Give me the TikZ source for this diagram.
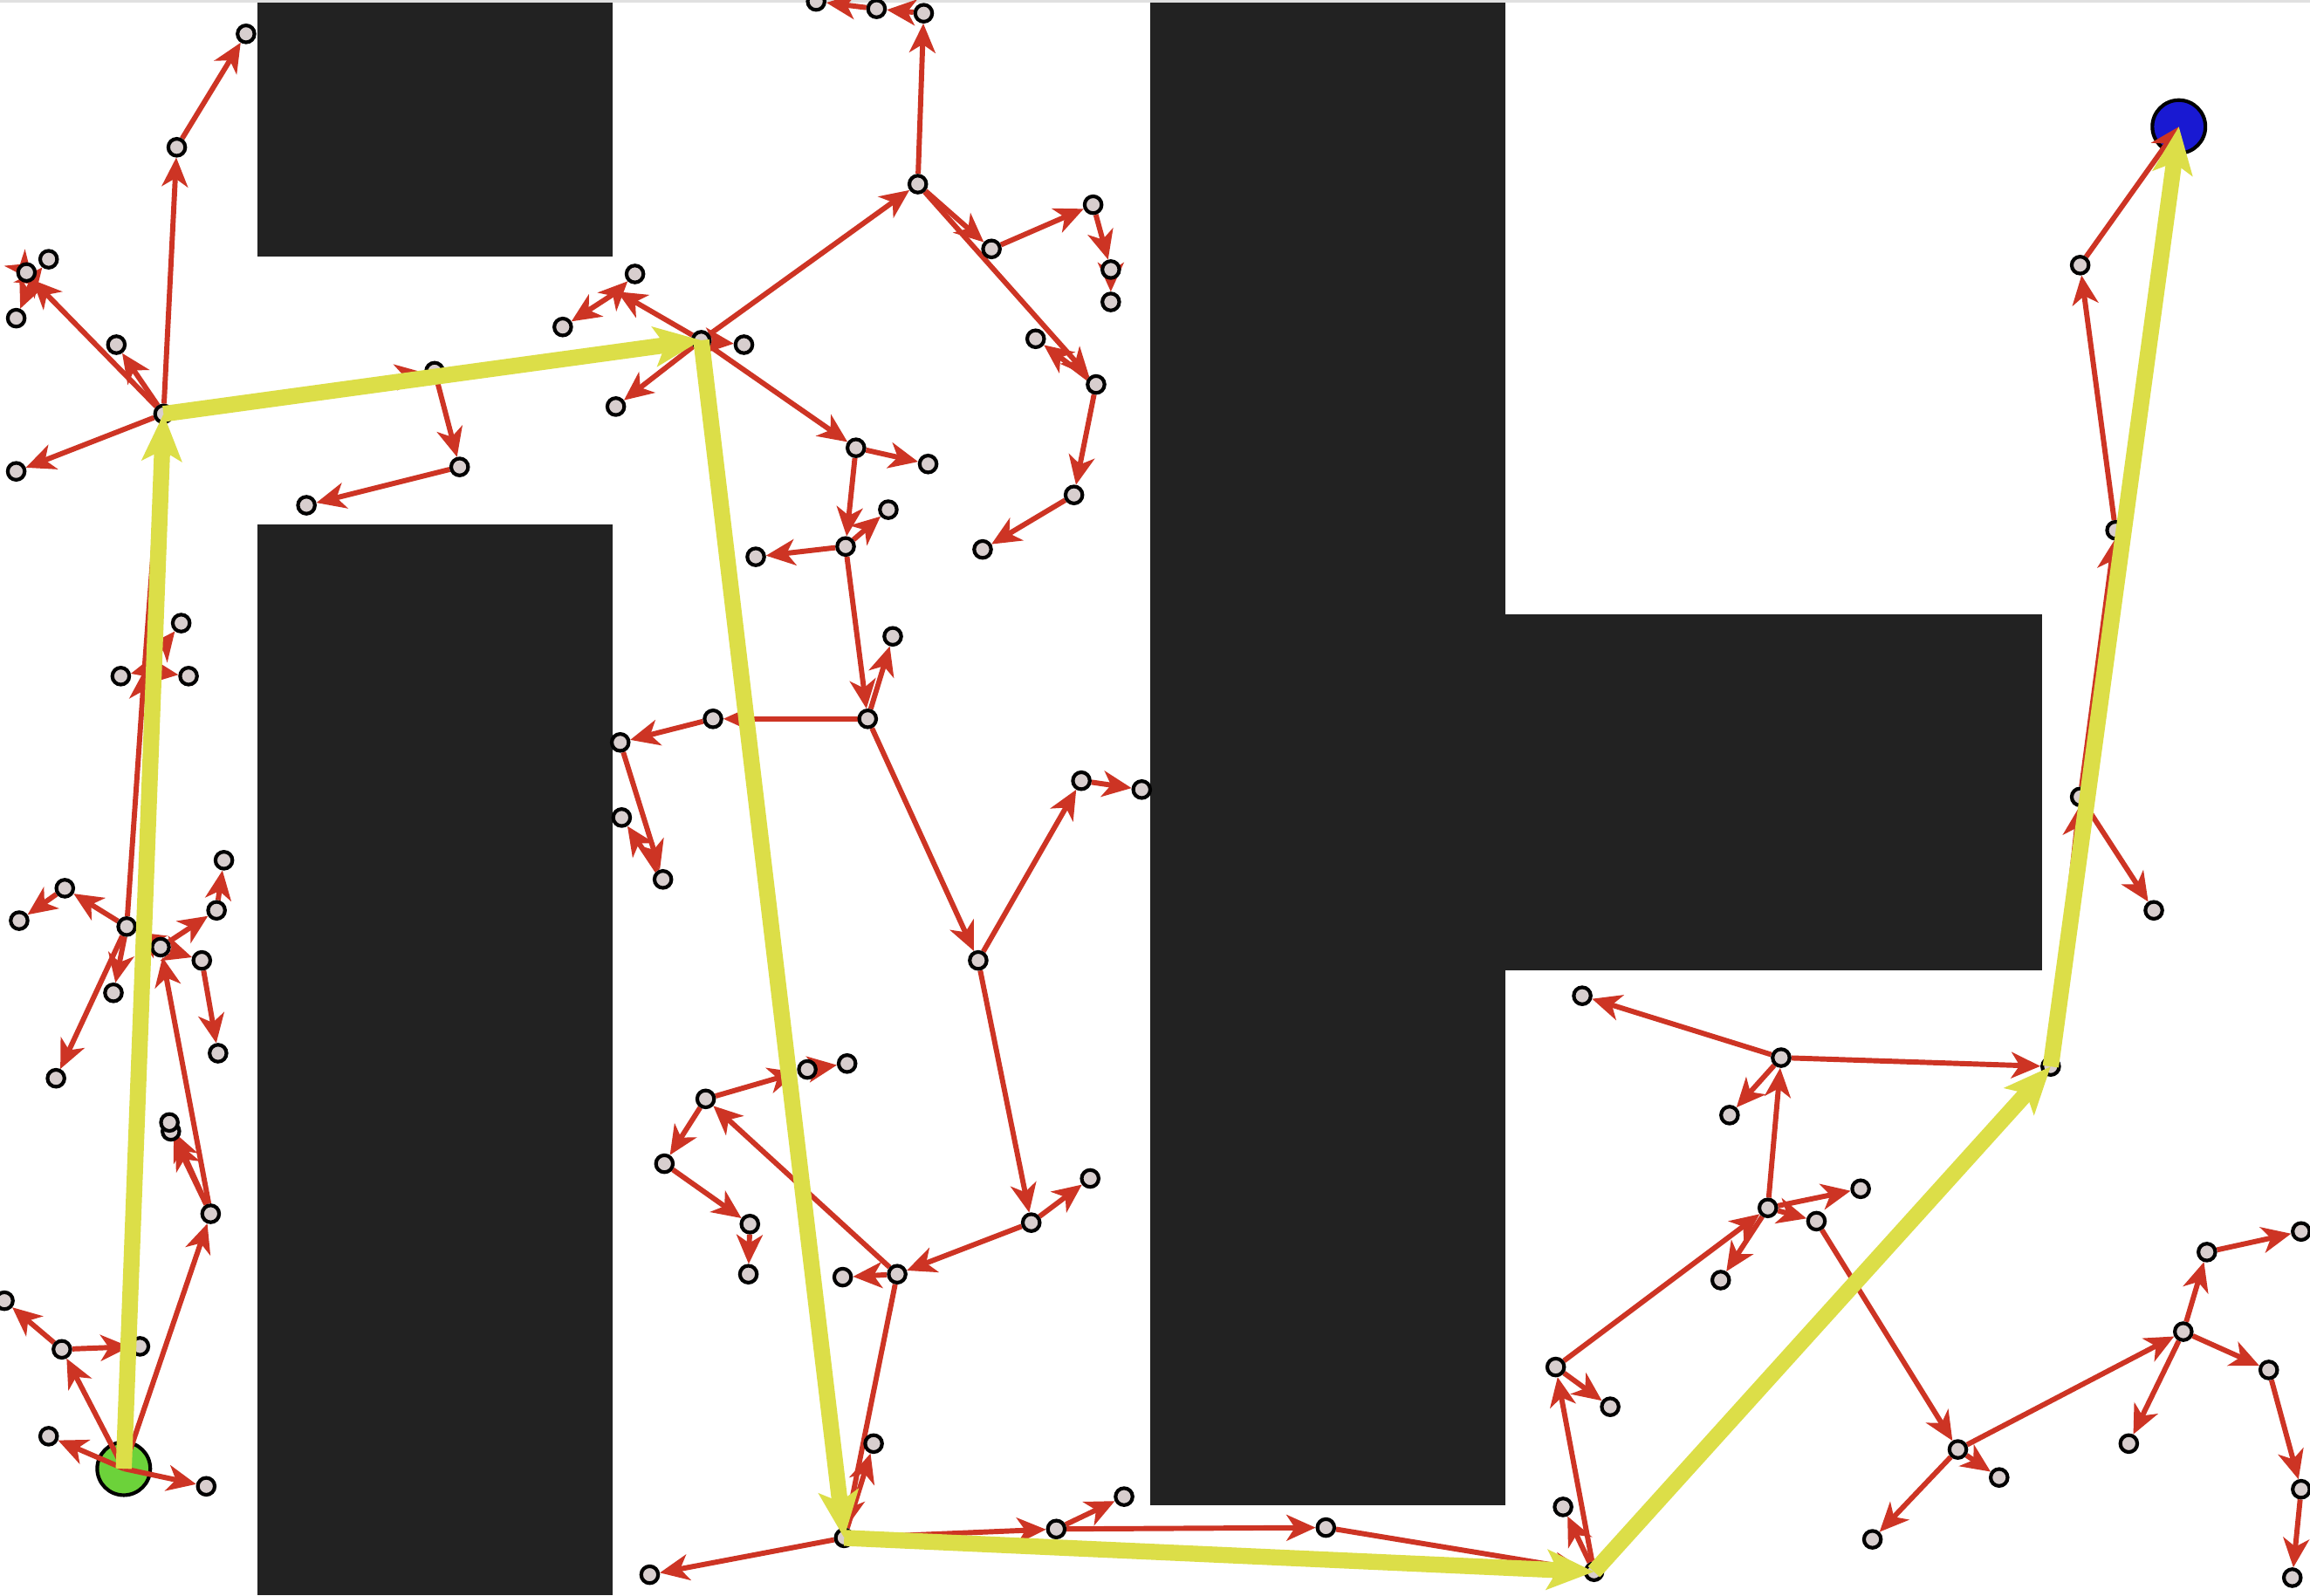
\documentclass[tikz,border=0pt]{standalone}
\usetikzlibrary{arrows.meta}
\pgfdeclarelayer{bg}
\pgfdeclarelayer{edges}
\pgfdeclarelayer{top}
\pgfsetlayers{bg,edges,main,top}
\definecolor{obst}{HTML}{222222}
\definecolor{treered}{RGB}{205,52,36}
\definecolor{pathyellow}{RGB}{220,222,72}
\definecolor{nodefill}{RGB}{216,206,206}
\definecolor{startgreen}{RGB}{108,210,58}
\definecolor{goalblue}{RGB}{25,25,210}
\tikzset{
  tn/.style={circle, draw=black, fill=nodefill, line width=0.7pt, minimum size=0.115cm, inner sep=0pt},
  te/.style={draw=treered, line width=1pt, -{Stealth[length=5.6pt,width=5pt,inset=1.6pt]}},
  pe/.style={draw=pathyellow, line width=3.1pt, -{Stealth[length=9pt,width=7.6pt,inset=2pt]}},
  obstacle/.style={fill=obst},
  endpt/.style={circle, draw=black, line width=0.7pt, minimum size=0.36cm, inner sep=0pt}
}
\begin{document}
\begin{tikzpicture}[x=0.01cm,y=-0.01cm]
\useasboundingbox (0,0) rectangle (1568,1083);
\begin{pgfonlayer}{bg}
\fill[white] (0,0) rectangle (1568,1083);
\draw[black!12, line width=0.6pt] (0,0.8) -- (1568,0.8);
\fill[obstacle] (175,2) rectangle (416,174);
\fill[obstacle] (175,356) rectangle (416,1083);
\fill[obstacle] (781,2) rectangle (1022,1022);
\fill[obstacle] (1022,417) rectangle (1386,659);
\node[endpt, fill=startgreen] (S) at (84,997) {};
\node[endpt, fill=goalblue] (G) at (1479,86) {};
\end{pgfonlayer}

% path nodes
\node[tn] (P1) at (111,281) {};
\node[tn] (P2) at (476,231) {};
\node[tn] (P3) at (573,1044) {};
\node[tn] (P4) at (1082,1067) {};
\node[tn] (P5) at (1392,724) {};
% bottom left
\node[tn] (a1) at (33,975) {};
\node[tn] (a2) at (140,1009) {};
\node[tn] (a3) at (42,916) {};
\node[tn] (a4) at (95,914) {};
\node[tn] (a5) at (3,883) {};
\node[tn] (a6) at (143,824) {};
\node[tn] (a7) at (116,768) {};
\node[tn] (a7b) at (115,762) {};
% left middle
\coordinate (c0) at (98,455);
\node[tn] (b1) at (123,423) {};
\node[tn] (b2) at (82,459) {};
\node[tn] (b3) at (128,459) {};
\node[tn] (c3) at (86,629) {};
\node[tn] (c1) at (44,603) {};
\node[tn] (c2) at (13,625) {};
\node[tn] (c4) at (77,674) {};
\node[tn] (c5) at (38,732) {};
\node[tn] (c6) at (109,643) {};
\node[tn] (c7) at (147,618) {};
\node[tn] (c8) at (152,584) {};
\node[tn] (c9) at (137,652) {};
\node[tn] (c11) at (148,715) {};
% upper left
\node[tn] (d1) at (120,100) {};
\node[tn] (d2) at (167,23) {};
\coordinate (d6) at (22,190);
\node[tn] (d3) at (33,176) {};
\node[tn] (d4) at (18,185) {};
\node[tn] (d5) at (11,216) {};
\node[tn] (d7) at (79,234) {};
\node[tn] (d8) at (11,320) {};
\node[tn] (d9) at (295,252) {};
\node[tn] (d10) at (312,317) {};
\node[tn] (d11) at (208,343) {};
% around P2
\coordinate (e13) at (419,198);
\node[tn] (e12) at (431,186) {};
\node[tn] (d12) at (382,222) {};
\node[tn] (e14) at (505,234) {};
\node[tn] (e15) at (418,276) {};
\node[tn] (e16) at (581,304) {};
\node[tn] (e17) at (630,315) {};
\node[tn] (e18) at (574,371) {};
\node[tn] (e19) at (603,346) {};
\node[tn] (e20) at (513,378) {};
\node[tn] (e0) at (623,125) {};
\node[tn] (e1) at (627,9) {};
\node[tn] (e2) at (595,6) {};
\node[tn] (e3) at (554,1) {};
\node[tn] (e4) at (673,169) {};
\node[tn] (e5) at (742,139) {};
\node[tn] (e6) at (754,183) {};
\node[tn] (e7) at (754,205) {};
\node[tn] (e8) at (744,261) {};
\node[tn] (e9) at (703,230) {};
\node[tn] (e10) at (729,336) {};
\node[tn] (e11) at (667,373) {};
% middle
\node[tn] (f0) at (589,488) {};
\node[tn] (f1) at (606,432) {};
\node[tn] (f2) at (484,488) {};
\node[tn] (f3) at (421,504) {};
\node[tn] (f4) at (422,555) {};
\node[tn] (f5) at (450,597) {};
\node[tn] (f6) at (664,652) {};
\node[tn] (f7) at (734,530) {};
\node[tn] (f8) at (775,536) {};
\node[tn] (f9) at (700,830) {};
\node[tn] (g8) at (740,800) {};
\node[tn] (g3) at (609,865) {};
\node[tn] (g7) at (572,867) {};
\node[tn] (g2) at (479,746) {};
\node[tn] (g0) at (548,726) {};
\node[tn] (g1) at (575,722) {};
\node[tn] (g4) at (451,790) {};
\node[tn] (g5) at (509,831) {};
\node[tn] (g6) at (508,865) {};
\node[tn] (g9) at (593,980) {};
\node[tn] (g10) at (441,1069) {};
\node[tn] (g11) at (717,1038) {};
\node[tn] (g12) at (763,1016) {};
\node[tn] (g13) at (900,1037) {};
% right
\node[tn] (h1) at (1061,1023) {};
\node[tn] (h2) at (1056,928) {};
\node[tn] (h3) at (1093,955) {};
\node[tn] (h4) at (1200,820) {};
\node[tn] (h5) at (1168,869) {};
\node[tn] (h6) at (1174,757) {};
\node[tn] (h7) at (1209,718) {};
\node[tn] (h8) at (1074,676) {};
\node[tn] (h9) at (1263,807) {};
\node[tn] (h10) at (1233,829) {};
\node[tn] (h11) at (1329,984) {};
\node[tn] (h12) at (1357,1003) {};
\node[tn] (h13) at (1271,1045) {};
\node[tn] (h14) at (1482,904) {};
\node[tn] (h15) at (1498,850) {};
\node[tn] (h16) at (1562,836) {};
\node[tn] (h17) at (1445,980) {};
\node[tn] (h18) at (1540,930) {};
\node[tn] (h19) at (1562,1011) {};
\node[tn] (h20) at (1556,1071) {};
\node[tn] (Q3) at (1412,541) {};
\node[tn] (Q4) at (1462,618) {};
\node[tn] (Q1) at (1436,360) {};
\node[tn] (Q2) at (1412,180) {};

\begin{pgfonlayer}{edges}
\draw[te] (S.center) -- (a1);
\draw[te] (S.center) -- (a2);
\draw[te] (S.center) -- (a3);
\draw[te] (a3) -- (a4);
\draw[te] (a3) -- (a5);
\draw[te] (S.center) -- (a6);
\draw[te] (a6) -- (a7);
\draw[te] (a6) -- (a7b);
\draw[te] (a6) -- (c6);
\draw[te] (c6) -- (c3);
\draw[te] (c3) -- (c1);
\draw[te] (c1) -- (c2);
\draw[te] (c3) -- (c4);
\draw[te] (c3) -- (c5);
\draw[te] (c3) -- (c0);
\draw[te] (c0) -- (P1);
\draw[te] (c0) -- (b1);
\draw[te] (c0) -- (b2);
\draw[te] (c0) -- (b3);
\draw[te] (c6) -- (c7);
\draw[te] (c7) -- (c8);
\draw[te] (c6) -- (c9);
\draw[te] (c9) -- (c11);
\draw[te] (P1) -- (d1);
\draw[te] (d1) -- (d2);
\draw[te] (P1) -- (d6);
\draw[te] (d6) -- (d3);
\draw[te] (d6) -- (d4);
\draw[te] (d6) -- (d5);
\draw[te] (P1) -- (d7);
\draw[te] (P1) -- (d8);
\draw[te] (P1) -- (d9);
\draw[te] (d9) -- (d10);
\draw[te] (d10) -- (d11);
\draw[te] (P2) -- (e13);
\draw[te] (e13) -- (e12);
\draw[te] (e13) -- (d12);
\draw[te] (P2) -- (e14);
\draw[te] (P2) -- (e15);
\draw[te] (P2) -- (e0);
\draw[te] (e0) -- (e1);
\draw[te] (e1) -- (e2);
\draw[te] (e2) -- (e3);
\draw[te] (e0) -- (e4);
\draw[te] (e4) -- (e5);
\draw[te] (e5) -- (e6);
\draw[te] (e6) -- (e7);
\draw[te] (e0) -- (e8);
\draw[te] (e8) -- (e9);
\draw[te] (e8) -- (e10);
\draw[te] (e10) -- (e11);
\draw[te] (P2) -- (e16);
\draw[te] (e16) -- (e17);
\draw[te] (e16) -- (e18);
\draw[te] (e18) -- (e19);
\draw[te] (e18) -- (e20);
\draw[te] (e18) -- (f0);
\draw[te] (f0) -- (f1);
\draw[te] (f0) -- (f2);
\draw[te] (f2) -- (f3);
\draw[te] (f3) -- (f5);
\draw[te] (f5) -- (f4);
\draw[te] (f0) -- (f6);
\draw[te] (f6) -- (f7);
\draw[te] (f7) -- (f8);
\draw[te] (f6) -- (f9);
\draw[te] (f9) -- (g8);
\draw[te] (f9) -- (g3);
\draw[te] (g3) -- (g2);
\draw[te] (g2) -- (g0);
\draw[te] (g0) -- (g1);
\draw[te] (g2) -- (g4);
\draw[te] (g4) -- (g5);
\draw[te] (g5) -- (g6);
\draw[te] (g3) -- (g7);
\draw[te] (g3) -- (P3);
\draw[te] (P3) -- (g9);
\draw[te] (P3) -- (g10);
\draw[te] (P3) -- (g11);
\draw[te] (g11) -- (g12);
\draw[te] (g11) -- (g13);
\draw[te] (g13) -- (P4);
\draw[te] (P4) -- (h1);
\draw[te] (P4) -- (h2);
\draw[te] (h2) -- (h3);
\draw[te] (h2) -- (h4);
\draw[te] (h4) -- (h5);
\draw[te] (h4) -- (h7);
\draw[te] (h7) -- (h6);
\draw[te] (h7) -- (h8);
\draw[te] (h7) -- (P5);
\draw[te] (h4) -- (h9);
\draw[te] (h4) -- (h10);
\draw[te] (h10) -- (h11);
\draw[te] (h11) -- (h12);
\draw[te] (h11) -- (h13);
\draw[te] (h11) -- (h14);
\draw[te] (h14) -- (h15);
\draw[te] (h15) -- (h16);
\draw[te] (h14) -- (h17);
\draw[te] (h14) -- (h18);
\draw[te] (h18) -- (h19);
\draw[te] (h19) -- (h20);
\draw[te] (P5) -- (Q3);
\draw[te] (Q3) -- (Q4);
\draw[te] (Q3) -- (Q1);
\draw[te] (Q1) -- (Q2);
\draw[te] (Q2) -- (G.center);
\end{pgfonlayer}

\begin{pgfonlayer}{top}
\draw[pe] (S.center) -- (P1.center);
\draw[pe] (P1.center) -- (P2.center);
\draw[pe] (P2.center) -- (P3.center);
\draw[pe] (P3.center) -- (P4.center);
\draw[pe] (P4.center) -- (P5.center);
\draw[pe] (P5.center) -- (G.center);
\end{pgfonlayer}
\end{tikzpicture}
\end{document}
